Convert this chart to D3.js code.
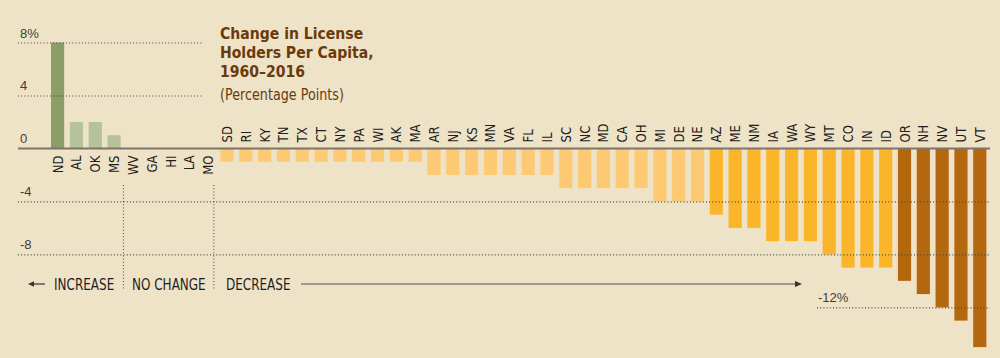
<!DOCTYPE html>
<html><head><meta charset="utf-8">
<script src="https://cdn.jsdelivr.net/npm/d3@7"></script>
<style>
html,body{margin:0;padding:0;background:#efe3c7;}
svg{display:block;}
text{font-family:"Liberation Sans Narrow","DejaVu Sans Condensed",sans-serif;}
</style></head>
<body><svg id="c" width="1000" height="358"></svg>
<script>
const states = ["ND","AL","OK","MS","WV","GA","HI","LA","MO","SD","RI","KY","TN","TX","CT","NY","PA","WI","AK","MA","AR","NJ","KS","MN","VA","FL","IL","SC","NC","MD","CA","OH","MI","DE","NE","AZ","ME","NM","IA","WA","WY","MT","CO","IN","ID","OR","NH","NV","UT","VT"];
const values = [8,2,2,1,0,0,0,0,0,-1,-1,-1,-1,-1,-1,-1,-1,-1,-1,-1,-2,-2,-2,-2,-2,-2,-2,-3,-3,-3,-3,-3,-4,-4,-4,-5,-6,-6,-7,-7,-7,-8,-9,-9,-9,-10,-11,-12,-13,-15];
const tickValues = [8,4,0,-4,-8,-12];
const tickLabels = ["8%","4","0","-4","-8","-12%"];
const titleLines = ["Change in License","Holders Per Capita,","1960–2016"];
const subtitle = "(Percentage Points)";
const groupLabels = ["INCREASE","NO CHANGE","DECREASE"];

const svg = d3.select("#c");
const x = d3.scaleBand().domain(states).range([48.2, 989.2]).paddingInner(0.3).paddingOuter(0.15);
const y = d3.scaleLinear().domain([-15.5, 8.5]).range([353.7, 35.9]);

function color(v){
  if (v >= 8) return "#8a9e67";
  if (v > 0) return "#b6c29b";
  if (v >= -4) return "#fdca73";
  if (v >= -9) return "#fbb52a";
  return "#b4670f";
}

// bars
const data = states.map((s,i)=>({s, v: values[i]}));
svg.append("g").selectAll("rect").data(data.filter(d=>d.v!==0)).join("rect")
  .attr("x", d=>x(d.s)).attr("width", x.bandwidth())
  .attr("y", d=>y(Math.max(0,d.v))).attr("height", d=>Math.abs(y(d.v)-y(0)))
  .attr("fill", d=>color(d.v));

// gridlines (dotted) drawn over bars
const grid = svg.append("g").attr("stroke","#4a4a4a").attr("stroke-width",1.1).attr("stroke-dasharray","1 2.2");
tickValues.forEach(t=>{
  if (t===0) return;
  let x1 = 18, x2 = 990;
  if (t>0) x2 = 202;
  if (t===-12) x1 = 817;
  grid.append("line").attr("x1",x1).attr("x2",x2).attr("y1",y(t)+0.5).attr("y2",y(t)+0.5);
});
// zero line
svg.append("line").attr("x1",18).attr("x2",990).attr("y1",y(0)).attr("y2",y(0))
  .attr("stroke","#7b756a").attr("stroke-width",2);

// tick labels
svg.append("g").selectAll("text").data(tickValues).join("text")
  .attr("x", (d)=> d===-12 ? 818 : 20)
  .attr("y", d=>y(d)-5)
  .attr("font-size",13).attr("fill","#3d3d3d")
  .style("font-family","'Liberation Sans','DejaVu Sans',sans-serif")
  .text((d,i)=>tickLabels[i]);

// state labels
svg.append("g").selectAll("text").data(data).join("text")
  .attr("transform", d=>{
    const cx = x(d.s)+x.bandwidth()/2 + 5;
    const yy = d.v>=0 ? 155.5 : 142.5;
    return `translate(${cx},${yy}) rotate(-90) scale(0.93,1)`;
  })
  .attr("text-anchor", d=>d.v>=0 ? "end" : "start")
  .attr("font-size",14).attr("fill","#1e1e1e")
  .text(d=>d.s);

// title
const tg = svg.append("g").attr("fill","#6a3a0d");
titleLines.forEach((t,i)=>{
  tg.append("text").attr("transform",`translate(220,${38.5+i*19}) scale(0.957,1)`)
    .attr("font-size",16.3).attr("font-weight","bold").text(t);
});
tg.append("text").attr("transform","translate(220,100) scale(0.86,1)").attr("font-size",16.5).text(subtitle);

// separators
const sep1 = x("MS")+x.bandwidth()+(x.step()-x.bandwidth())/2;
const sep2 = x("SD")-x.step()*0.35;
[sep1,sep2].forEach(sx=>{
  svg.append("line").attr("x1",sx).attr("x2",sx).attr("y1",185).attr("y2",290)
    .attr("stroke","#555").attr("stroke-width",1.1).attr("stroke-dasharray","1 2.2");
});

// bottom annotations
const ay = 284;
const ann = svg.append("g").attr("font-size",15).attr("fill","#1e1e1e");
[[54,0],[132,1],[226,2]].forEach(([ax,i])=>{
  ann.append("text").attr("transform",`translate(${ax},${ay+5.5}) scale(0.89,1)`).text(groupLabels[i]);
});
svg.append("line").attr("x1",32).attr("x2",45).attr("y1",ay).attr("y2",ay).attr("stroke","#333").attr("stroke-width",1.2);
svg.append("path").attr("d",`M28,${ay} L34,${ay-2.8} L34,${ay+2.8} Z`).attr("fill","#333");
svg.append("line").attr("x1",301).attr("x2",797).attr("y1",ay).attr("y2",ay).attr("stroke","#555").attr("stroke-width",1.2);
svg.append("path").attr("d",`M802,${ay} L795,${ay-3} L795,${ay+3} Z`).attr("fill","#333");
</script></body></html>
